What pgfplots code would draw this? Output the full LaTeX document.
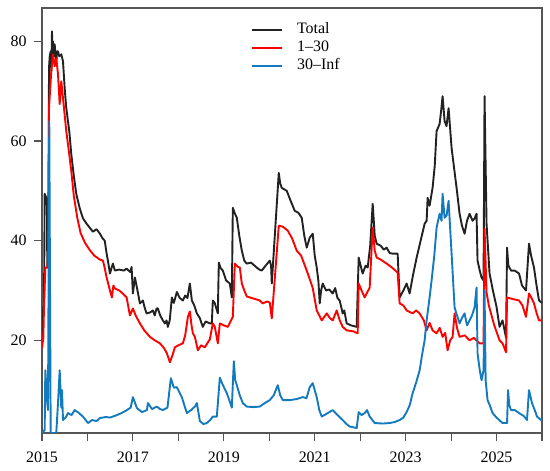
\documentclass[border=0pt]{standalone}
\usepackage{pgfplots}
\pgfplotsset{compat=1.18}
\usepackage{fontspec}
\setmainfont{Liberation Serif}
\definecolor{cTotal}{RGB}{34,34,34}
\definecolor{cRed}{RGB}{255,0,0}
\definecolor{cBlue}{RGB}{20,122,190}
\definecolor{cFrame}{RGB}{85,85,85}
\begin{document}
\begin{tikzpicture}
\path[use as bounding box] (-42bp,-38bp) rectangle (508bp,433bp);
\begin{axis}[
  at={(0,0)}, anchor=south west,
  scale only axis, width=500bp, height=425bp,
  xmin=2015, xmax=2026, ymin=1.4, ymax=86.7,
  axis line style={cFrame, line width=1.1bp},
  every tick/.style={cFrame, line width=1.1bp},
  tick align=outside, major tick length=8bp,
  xtick pos=bottom, ytick pos=left,
  xtick={2015,...,2026},
  xticklabels={2015,,2017,,2019,,2021,,2023,,2025,},
  ytick={20,40,60,80},
  yticklabels={20,40,60,80},
  tick label style={font=\fontsize{16}{18}\selectfont, black},
  xticklabel style={yshift=-7bp},
  yticklabel style={xshift=-4bp},
  /pgf/number format/assume math mode=true,
  legend image code/.code={\draw[#1] (0bp,0bp) -- (30bp,0bp);},
  legend style={at={(axis description cs:0.418,0.968)}, anchor=north west, draw=none, fill=none,
    font=\fontsize{16}{18}\selectfont, row sep=1bp, inner sep=0pt,
    nodes={inner sep=1bp, text height=11bp, text depth=4bp},
    /tikz/every odd column/.append style={column sep=13bp}},
  legend cell align=left,
]
\addplot[cTotal, line width=1.9bp, line join=round] coordinates {
(2015.000,21) (2015.029,26.7) (2015.044,27) (2015.059,49.4) (2015.095,48.6) (2015.110,47) (2015.116,34.6) (2015.140,35)
(2015.154,74.6) (2015.170,77) (2015.191,78) (2015.205,74) (2015.220,82) (2015.230,76) (2015.242,80) (2015.260,77) (2015.279,79.4)
(2015.314,75.4) (2015.330,78) (2015.352,78) (2015.380,77) (2015.424,77.4) (2015.462,76) (2015.499,70.6) (2015.530,67)
(2015.571,64) (2015.600,62) (2015.644,57.4) (2015.700,53) (2015.754,49.4) (2015.830,46.5) (2015.900,44.5) (2015.982,43.4)
(2016.050,42.6) (2016.120,41.8) (2016.200,42.3) (2016.275,41.4) (2016.330,40.5) (2016.380,40) (2016.422,37.4) (2016.450,36)
(2016.495,33.4) (2016.530,34.5) (2016.560,35.4) (2016.604,34) (2016.700,34.2) (2016.800,34) (2016.862,34.4) (2016.940,33.7) (2016.971,34.7)
(2017.000,29.4) (2017.044,32.6) (2017.088,30.6) (2017.154,27.4) (2017.220,28) (2017.260,26.5) (2017.301,25.4) (2017.380,25.6) (2017.440,26)
(2017.480,25) (2017.521,26.4) (2017.549,26.4) (2017.600,25) (2017.659,24) (2017.703,23.4) (2017.740,24) (2017.769,22.7)
(2017.810,24) (2017.857,28.6) (2017.900,27.5) (2017.967,29.7) (2018.030,28.5) (2018.099,28) (2018.150,29) (2018.200,28.5) (2018.253,31.4)
(2018.297,28) (2018.350,27) (2018.407,25.4) (2018.470,24.5) (2018.538,22.7) (2018.600,23.8) (2018.692,23.4) (2018.736,23.4) (2018.758,28)
(2018.800,27.5) (2018.868,25.4) (2018.890,35.6) (2018.930,34.5) (2018.978,34) (2019.050,32) (2019.132,31.4) (2019.176,28.6)
(2019.198,46.6) (2019.240,45.5) (2019.286,44.6) (2019.340,41) (2019.396,38) (2019.450,36) (2019.505,35.4) (2019.600,35.6)
(2019.725,34.6) (2019.780,34.2) (2019.835,34) (2019.920,35) (2020.011,36) (2020.040,35) (2020.055,31.4)
(2020.209,53.6) (2020.240,51.5) (2020.275,50.6) (2020.385,50) (2020.470,48) (2020.560,46) (2020.640,45.6) (2020.714,44.6)
(2020.770,41) (2020.824,38.6) (2020.890,40.6) (2020.956,41.4) (2021.000,37) (2021.044,34.6) (2021.080,32) (2021.110,27.4)
(2021.140,30) (2021.176,31.4) (2021.250,30) (2021.320,30.2) (2021.396,29.4) (2021.450,30.5) (2021.500,28.5) (2021.549,28)
(2021.615,25.4) (2021.650,26) (2021.703,23.4) (2021.800,23) (2021.923,22.7) (2021.967,36.6) (2022.010,35) (2022.055,33.4)
(2022.120,35) (2022.165,34.6) (2022.220,39) (2022.275,47.4) (2022.320,41) (2022.363,39.4) (2022.450,39) (2022.520,38.2)
(2022.582,38.6) (2022.650,37.5) (2022.714,37.4) (2022.824,37.4) (2022.868,28.6) (2022.950,30) (2023.022,31.4) (2023.088,29.4)
(2023.160,33) (2023.242,36.6) (2023.330,40) (2023.418,43.4) (2023.462,44) (2023.484,48.6) (2023.527,47) (2023.593,50.6)
(2023.640,55) (2023.681,62) (2023.747,63.4) (2023.780,66) (2023.813,69) (2023.857,64) (2023.900,63) (2023.945,66.6)
(2024.011,58.6) (2024.060,55) (2024.121,50.6) (2024.187,45.4) (2024.240,43) (2024.297,41.4) (2024.350,44) (2024.407,45.4)
(2024.473,44) (2024.520,44.5) (2024.560,45.4) (2024.582,36) (2024.630,34) (2024.670,32.6) (2024.714,32) (2024.736,69)
(2024.780,43.4) (2024.846,33.4) (2024.920,30) (2025.000,26.7) (2025.066,22.7) (2025.132,24) (2025.209,20.5) (2025.231,38.6)
(2025.260,35) (2025.319,34) (2025.400,34) (2025.495,33.4) (2025.560,31) (2025.648,30) (2025.714,39.4) (2025.760,37)
(2025.824,34.6) (2025.880,31) (2025.934,28) (2026.000,27.5)
};
\addlegendentry{Total}
\addplot[cRed, line width=1.9bp, line join=round] coordinates {
(2015.000,18.5) (2015.029,20.5) (2015.044,26.6) (2015.073,34.6) (2015.116,34.6) (2015.132,36) (2015.154,66.6) (2015.204,74)
(2015.242,77.4) (2015.279,75) (2015.314,76.6) (2015.352,73.4) (2015.389,67.4) (2015.424,72) (2015.462,68.6) (2015.534,62)
(2015.590,58) (2015.644,54) (2015.700,49) (2015.776,44.6) (2015.850,41.5) (2015.950,39.5) (2016.060,38) (2016.150,37)
(2016.275,36.2) (2016.341,36) (2016.380,34.5) (2016.422,32.6) (2016.495,30) (2016.538,28.6) (2016.570,31) (2016.604,30.4)
(2016.700,30) (2016.800,29.2) (2016.862,28.6) (2016.934,25) (2017.000,26.4) (2017.060,25) (2017.154,23.4) (2017.250,22)
(2017.374,20.7) (2017.480,20) (2017.593,19.4) (2017.680,18.5) (2017.747,17.4) (2017.813,15.6) (2017.870,17) (2017.923,18.6)
(2018.000,19) (2018.099,19.4) (2018.150,21) (2018.209,24.7) (2018.253,25.8) (2018.290,23) (2018.319,21.4) (2018.363,20.7)
(2018.429,18) (2018.500,19) (2018.582,18.6) (2018.692,20.2) (2018.758,23.4) (2018.802,22.7) (2018.868,19.4) (2018.912,23.4)
(2019.000,23) (2019.088,22.7) (2019.198,24.7) (2019.242,35.4) (2019.300,34.8) (2019.352,34.6) (2019.396,31.4) (2019.450,30)
(2019.505,28.8) (2019.650,28.4) (2019.791,28) (2019.857,27.4) (2019.950,27.8) (2020.011,27.6) (2020.055,24.4) (2020.209,43)
(2020.300,42.8) (2020.407,42) (2020.500,40.5) (2020.604,38) (2020.700,37) (2020.824,34) (2020.900,32) (2020.956,30.5)
(2021.044,26) (2021.100,25) (2021.154,24) (2021.264,25.4) (2021.330,24.5) (2021.396,24) (2021.484,26) (2021.550,24)
(2021.615,22.7) (2021.703,22) (2021.850,21.8) (2021.945,21.4) (2021.967,31.4) (2022.030,30) (2022.099,28.6) (2022.209,30.6)
(2022.275,42.6) (2022.320,38) (2022.363,36.6) (2022.450,36.2) (2022.582,35.4) (2022.700,34.6) (2022.824,33.6) (2022.868,27.4)
(2022.950,27) (2023.022,26) (2023.154,25.4) (2023.230,26) (2023.308,25.4) (2023.400,24) (2023.462,22) (2023.527,23.5)
(2023.593,22) (2023.681,21.4) (2023.750,22.5) (2023.813,20.7) (2023.870,21.5) (2023.923,18) (2023.980,20) (2024.033,20.7)
(2024.077,25.4) (2024.130,22.5) (2024.187,20.7) (2024.300,21) (2024.407,20) (2024.500,20.5) (2024.626,19.4) (2024.714,19.4)
(2024.736,42.4) (2024.780,29.6) (2024.830,27) (2024.890,25) (2024.950,23) (2025.066,20) (2025.132,19.4) (2025.209,17.6)
(2025.231,28.6) (2025.350,28.3) (2025.495,28) (2025.570,27) (2025.648,24.7) (2025.714,29.4) (2025.770,28.5) (2025.824,27.4)
(2025.880,25.5) (2025.934,24) (2026.000,24)
};
\addlegendentry{1–30}
\addplot[cBlue, line width=1.9bp, line join=round] coordinates {
(2015.000,1.4) (2015.059,2) (2015.073,14) (2015.100,10) (2015.116,7.4) (2015.132,6) (2015.160,64) (2015.191,1.4)
(2015.314,1.4) (2015.352,7.4) (2015.389,14) (2015.424,6.5) (2015.440,10) (2015.462,4) (2015.520,4.5) (2015.571,5.4)
(2015.650,5) (2015.719,6) (2015.800,5.5) (2015.901,4.7) (2016.011,3.4) (2016.100,4) (2016.200,3.8) (2016.275,4.4)
(2016.400,4.6) (2016.500,4.5) (2016.648,5) (2016.750,5.4) (2016.868,6) (2016.950,6.5) (2017.000,8.6) (2017.088,6.4)
(2017.200,5.6) (2017.308,6) (2017.330,7.4) (2017.420,6.2) (2017.527,6.7) (2017.600,6.2) (2017.659,6) (2017.760,6.5)
(2017.835,12.4) (2017.900,10.5) (2017.967,10.6) (2018.077,8.6) (2018.130,7) (2018.187,5.4) (2018.280,6) (2018.363,6.7)
(2018.407,7.4) (2018.473,3.8) (2018.550,3.2) (2018.626,3.4) (2018.700,4) (2018.758,4.7) (2018.846,4.7) (2018.912,12.5)
(2018.980,11) (2019.066,9.4) (2019.120,8) (2019.176,6.5) (2019.220,15.8) (2019.250,12) (2019.286,11) (2019.350,9)
(2019.418,7.4) (2019.505,6.7) (2019.650,6.6) (2019.791,6.7) (2019.900,7.4) (2020.011,8) (2020.100,9) (2020.187,11)
(2020.240,9) (2020.297,8) (2020.450,8) (2020.600,8.2) (2020.736,8.6) (2020.820,8.4) (2020.890,10.6) (2020.956,11.4)
(2021.044,8.6) (2021.100,6) (2021.154,4.7) (2021.250,5.2) (2021.396,6) (2021.500,5) (2021.615,4) (2021.700,3.2)
(2021.769,2.7) (2021.923,2.4) (2021.967,5.6) (2022.030,5) (2022.099,5.4) (2022.150,6) (2022.209,4.7) (2022.319,3.4)
(2022.500,3.3) (2022.648,3.4) (2022.760,3.6) (2022.868,4) (2022.950,4.5) (2023.022,5.6) (2023.090,7) (2023.154,9.4)
(2023.230,11.5) (2023.308,14) (2023.360,17) (2023.418,20) (2023.462,24) (2023.527,28.6) (2023.571,32) (2023.630,37)
(2023.681,42.6) (2023.747,45.4) (2023.790,44) (2023.813,49.4) (2023.857,44.6) (2023.900,45) (2023.945,48) (2024.011,37.4)
(2024.077,26.6) (2024.130,25) (2024.187,23.4) (2024.240,24.5) (2024.297,25.4) (2024.350,23) (2024.407,24) (2024.460,25)
(2024.516,26.6) (2024.560,30.6) (2024.582,17.4) (2024.630,14) (2024.670,12) (2024.714,14) (2024.736,30) (2024.760,12)
(2024.802,8) (2024.850,7) (2024.912,5.4) (2025.000,4.5) (2025.132,3.4) (2025.231,3.4) (2025.253,10) (2025.280,7)
(2025.319,6) (2025.400,6) (2025.495,5.4) (2025.600,4.8) (2025.670,4) (2025.714,10) (2025.780,7.4) (2025.840,6)
(2025.890,4.7) (2025.978,4) (2026.000,4)
};
\addlegendentry{30–Inf}
\end{axis}
\end{tikzpicture}
\end{document}
